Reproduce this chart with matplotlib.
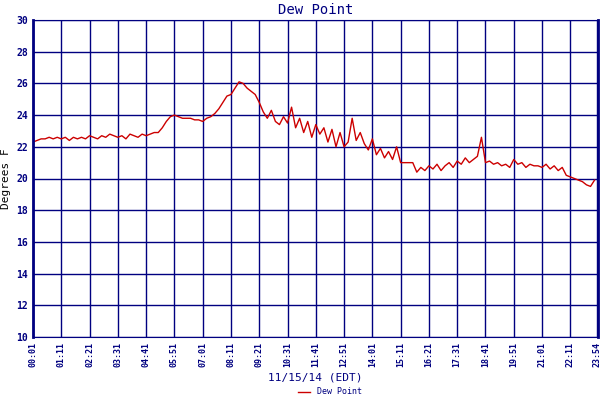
import matplotlib
matplotlib.use("Agg")
import matplotlib.pyplot as plt

values = [22.3,22.4,22.5,22.5,22.6,22.5,22.6,
          22.5,22.6,22.4,22.6,22.5,22.6,
          22.5,22.7,22.6,22.5,22.7,22.6,22.8,22.7,22.6,22.7,22.5,22.8,
          22.7,22.6,22.8,22.7,22.8,
          22.9,22.9,23.2,23.6,23.9,24.0,
          23.9,23.8,23.8,23.8,23.7,23.7,23.6,
          23.8,23.9,24.1,24.4,24.8,25.2,
          25.3,25.7,26.1,26.0,25.7,25.5,
          25.3,24.8,24.2,23.8,24.3,23.6,23.4,23.9,
          23.5,24.5,23.2,23.8,22.9,23.6,22.6,23.4,
          22.8,23.2,22.3,23.1,22.0,22.9,22.0,22.3,23.8,22.4,
          22.9,22.2,21.8,22.5,21.5,21.9,21.3,21.7,21.2,22.0,
          21.0,21.0,21.0,21.0,20.4,20.7,20.5,20.8,20.6,20.9,
          20.5,20.8,21.0,20.7,21.1,20.9,21.3,21.0,21.2,21.4,
          22.6,21.0,21.1,20.9,21.0,20.8,20.9,20.7,
          21.2,20.9,21.0,20.7,20.9,20.8,20.8,20.7,20.9,20.6,
          20.8,20.5,20.7,20.2,20.1,20.0,19.9,19.8,19.6,19.5,19.9]
minutes = [1 + 10 * i for i in range(len(values))]
tick_labels = ["00:01","01:11","02:21","03:31","04:41","05:51","07:01","08:11","09:21",
               "10:31","11:41","12:51","14:01","15:11","16:21","17:31","18:41","19:51",
               "21:01","22:11","23:54"]
tick_pos = [1 + 70 * i for i in range(20)] + [1396]

navy = "#000080"
plt.rcParams['font.family'] = ['DejaVu Sans Mono']
fig = plt.figure(figsize=(6, 4), dpi=100)
ax = fig.add_axes([0.055, 0.1575, 0.942, 0.7925])
ax.plot(minutes, values, color="#cc0000", lw=1, label="Dew Point")
ax.set_xlim(1, 1400)
ax.set_ylim(10, 30)
ax.set_yticks(range(10, 31, 2))
ax.set_xticks(tick_pos)
ax.set_xticklabels(tick_labels, rotation=90)
ax.tick_params(colors=navy, labelsize=6, length=0)
ax.tick_params(axis='y', labelsize=7)
for lbl in ax.get_xticklabels() + ax.get_yticklabels():
    lbl.set_fontweight('bold')
ax.grid(True, color=navy, lw=1)
for s in ax.spines.values():
    s.set_color(navy)
ax.spines['left'].set_linewidth(2)
ax.spines['right'].set_linewidth(2)
ax.set_title("Dew Point", color=navy, fontsize=10, pad=4)
ax.set_ylabel("Degrees F", fontsize=8, labelpad=4)
ax.set_xlabel("11/15/14 (EDT)", color=navy, fontsize=8, labelpad=4)
fig.legend(loc='lower center', bbox_to_anchor=(0.55, -0.01), frameon=False,
           fontsize=6, handlelength=1.5, labelcolor=navy)
fig.savefig("out.png")
